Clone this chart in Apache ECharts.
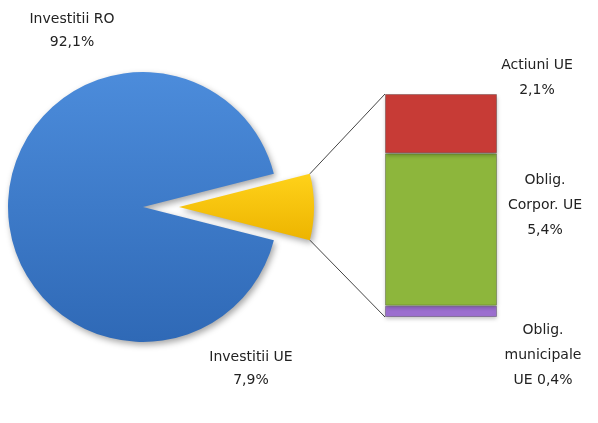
<!DOCTYPE html>
<html>
<head>
<meta charset="utf-8">
<script src="https://cdn.jsdelivr.net/npm/echarts@6/dist/echarts.min.js"></script>
<style>
  html, body { margin: 0; padding: 0; background: #fff; }
  #chart { width: 598px; height: 423px; }
</style>
</head>
<body>
<div id="chart"></div>
<script>
// pie: share of investments
const pieNames = ['Investitii UE', 'Investitii RO']
const pieValues = [7.9, 92.1]
const pieColors = [['#FFD21A', '#EDB400'], ['#4C8CDB', '#2F69B6']]

// bar: breakdown of "Investitii UE" (bottom to top)
const barNames = ['Oblig.\nmunicipale\nUE ', 'Oblig.\nCorpor. UE\n', 'Actiuni UE\n']
const barValues = [0.4, 5.4, 2.1]
const barColors = ['#9C6FCF', '#8DB63C', '#C73B36']

const fmt = v => String(v).replace('.', ',') + '%'

const chartDom = document.getElementById('chart')
const myChart = echarts.init(chartDom)

const pieCenter = [143, 207]
const pieRadius = 135
const explode = 36
const startAngle = pieValues[0] / 100 * 180

// label anchors for the pie (under the pie, top-left)
const pieLabelPos = [[251, 369], [72, 31]]
// label offsets relative to each bar segment's top-left corner
const barLabelPos = [[158, 50], [160, 52], [152, -16]]

const textStyle = {
  fontFamily: 'DejaVu Sans',
  fontSize: 14,
  color: '#222'
}

const option = {
  animation: false,
  grid: { left: 385, top: 94, width: 112, height: 223 },
  xAxis: { type: 'category', data: ['UE'], show: false },
  yAxis: {
    type: 'value', min: 0,
    max: barValues.reduce((a, b) => a + b, 0),
    show: false
  },
  series: [
    {
      type: 'pie',
      center: pieCenter,
      radius: pieRadius,
      startAngle: startAngle,
      clockwise: true,
      selectedMode: 'single',
      selectedOffset: explode,
      itemStyle: {
        shadowBlur: 6,
        shadowOffsetX: 2,
        shadowOffsetY: 3,
        shadowColor: 'rgba(0,0,0,0.35)'
      },
      label: { show: false },
      labelLine: { show: false },
      data: pieNames.map((n, i) => ({
        name: n,
        value: pieValues[i],
        selected: i === 0,
        itemStyle: {
          color: new echarts.graphic.LinearGradient(0, 0, 0, 1, [
            { offset: 0, color: pieColors[i][0] },
            { offset: 1, color: pieColors[i][1] }
          ])
        }
      }))
    },
    ...barValues.map((v, i) => ({
      type: 'bar',
      stack: 'ue',
      name: barNames[i],
      barWidth: '100%',
      data: [v],
      itemStyle: {
        color: barColors[i],
        borderColor: 'rgba(0,0,0,0.25)',
        borderWidth: 1,
        shadowBlur: 4,
        shadowOffsetY: 2,
        shadowColor: 'rgba(0,0,0,0.25)'
      },
      label: {
        show: true,
        ...textStyle,
        lineHeight: 25,
        align: 'center',
        verticalAlign: 'middle',
        position: barLabelPos[i],
        formatter: p => barNames[i] + fmt(p.value)
      }
    }))
  ]
}

myChart.setOption(option)

// connector lines from the exploded slice to the stacked bar
const total = option.yAxis.max
const half = startAngle * Math.PI / 180
const tipX = pieCenter[0] + explode + pieRadius * Math.cos(half)
const tipDy = pieRadius * Math.sin(half)
const barCx = myChart.convertToPixel({ xAxisIndex: 0 }, 'UE')
const barLeft = barCx - option.grid.width / 2
const barTop = myChart.convertToPixel({ yAxisIndex: 0 }, total)
const barBottom = myChart.convertToPixel({ yAxisIndex: 0 }, 0)

const lineStyle = { stroke: '#444', lineWidth: 1 }
myChart.setOption({
  graphic: [
    { type: 'line', z: 0, shape: { x1: tipX, y1: pieCenter[1] - tipDy, x2: barLeft, y2: barTop }, style: lineStyle },
    { type: 'line', z: 0, shape: { x1: tipX, y1: pieCenter[1] + tipDy, x2: barLeft, y2: barBottom }, style: lineStyle },
    ...pieNames.map((n, i) => ({
      type: 'text',
      x: pieLabelPos[i][0],
      y: pieLabelPos[i][1],
      style: {
        text: n + '\n' + fmt(pieValues[i]),
        font: '14px "DejaVu Sans"',
        fill: '#222',
        lineHeight: 23,
        align: 'center',
        verticalAlign: 'middle'
      }
    }))
  ]
})
</script>
</body>
</html>
